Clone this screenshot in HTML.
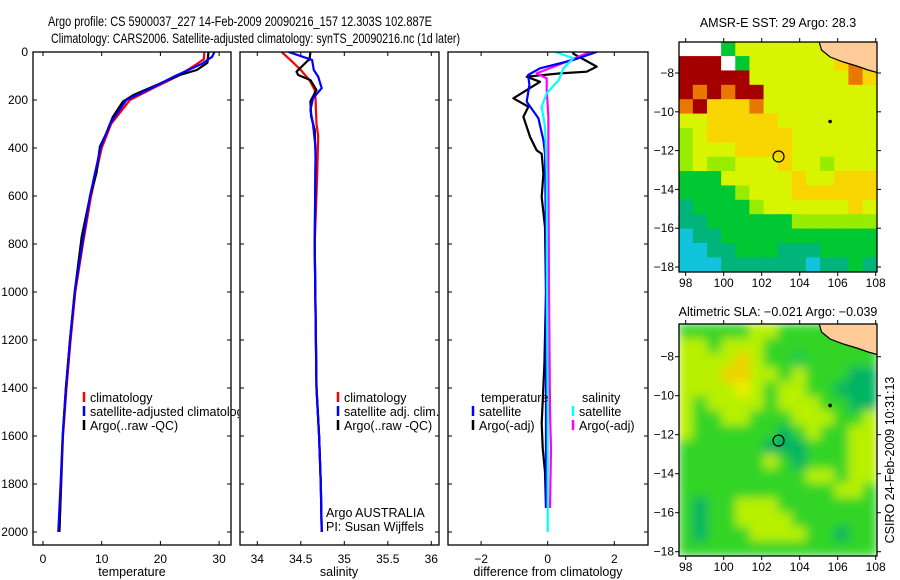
<!DOCTYPE html>
<html><head><meta charset="utf-8">
<style>
html,body{margin:0;padding:0;background:#fff;}
svg{display:block;font-family:"Liberation Sans",Arial,sans-serif;}
</style></head>
<body>
<svg id="fig" width="900" height="580" viewBox="0 0 900 580" xmlns="http://www.w3.org/2000/svg">
<defs>
<clipPath id="c1"><rect x="33" y="52" width="198" height="493"/></clipPath>
<clipPath id="c1t"><rect x="33" y="52" width="206" height="493"/></clipPath>
<clipPath id="c2"><rect x="240" y="52" width="199" height="493"/></clipPath>
<clipPath id="c3"><rect x="448" y="52" width="200" height="493"/></clipPath>
<clipPath id="cm1"><rect x="679" y="42" width="198" height="230"/></clipPath>
<clipPath id="cm2"><rect x="679" y="324" width="198" height="232"/></clipPath>
<filter id="blur" x="-5%" y="-5%" width="110%" height="110%"><feGaussianBlur stdDeviation="5"/></filter>
</defs>
<rect x="0" y="0" width="900" height="580" fill="#fff"/>
<text x="48" y="26" font-size="14" textLength="384" lengthAdjust="spacingAndGlyphs">Argo profile: CS 5900037_227 14-Feb-2009 20090216_157 12.303S 102.887E</text>
<text x="51" y="43" font-size="14" textLength="409" lengthAdjust="spacingAndGlyphs">Climatology: CARS2006. Satellite-adjusted climatology: synTS_20090216.nc (1d later)</text>
<g id="root"></g>
</svg>
<script>
// ---------- DATA ----------
const depthTicks = [0,200,400,600,800,1000,1200,1400,1600,1800,2000];
const tempTicks = [0,10,20,30];
const salTicks = [34,34.5,35,35.5,36];
const diffTicks = [-2,0,2];
const lonTicks = [98,100,102,104,106,108];
const latTicks = [-8,-10,-12,-14,-16,-18];

const tDepthClim = [0,30,50,100,150,200,300,400,600,800,1000,1200,1400,1600,1800,2000];
const tempClim =   [27.5,27.4,26.2,23,18.8,14.8,11.6,10,8.2,6.8,5.5,4.7,4.0,3.4,3.1,2.8];
const tDepthSat =  [0,20,50,100,150,200,300,400,600,800,1000,1200,1400,1600,1800,2000];
const tempSat =    [29.2,28.8,27,22.5,18.5,14.2,11.4,9.8,8.0,6.7,5.4,4.6,3.9,3.35,3.0,2.6];
const tDepthArgo = [0,45,75,96,137,179,207,270,338,394,505,603,770,1000,1200,1400,1600,1800,2000];
const tempArgo =   [28.2,28.0,26.2,23.3,19.4,15.4,13.6,11.9,10.8,9.7,9.1,8.0,6.6,5.4,4.6,3.9,3.35,3.07,2.8];

const sDepthClim = [0,33,75,117,158,200,300,350,500,800,1400,1600,1800,2000];
const salClim =    [34.28,34.38,34.5,34.6,34.66,34.67,34.68,34.7,34.69,34.66,34.68,34.71,34.73,34.74];
const sDepthSat =  [0,33,75,103,151,193,242,300,400,800,1400,1600,1800,2000];
const salSat =     [34.36,34.63,34.65,34.7,34.74,34.64,34.61,34.64,34.67,34.66,34.68,34.71,34.73,34.74];
const sDepthArgo = [0,33,36,82,96,117,158,206,269,324,442,800,1400,1600,1800,2000];
const salArgo =    [34.61,34.6,34.58,34.45,34.47,34.61,34.68,34.61,34.62,34.66,34.67,34.66,34.68,34.71,34.73,34.74];

const dDepthTSat = [0,33,68,96,137,207,276,367,422,783,1200,1600,1900];
const diffTSat =   [1.47,0.77,-0.23,-0.59,-0.55,-0.63,-0.28,-0.13,-0.08,-0.05,-0.05,-0.05,-0.05];
const dDepthTArgo = [0,7,61,82,89,103,124,193,228,270,354,410,424,507,604,729,1000,1300,1547,1650,1750,1900];
const diffTArgo =   [0.77,0.77,1.47,1.17,0.37,-0.63,-0.23,-1.03,-0.58,-0.73,-0.53,-0.33,-0.18,-0.13,-0.18,-0.08,-0.05,-0.1,-0.18,-0.15,-0.08,-0.05];
const dDepthSSat = [0,26,68,117,172,228,311,500,1000,1500,2000];
const diffSSat =   [0.23,0.77,0.47,0.33,-0.03,-0.18,-0.08,-0.03,-0.02,0,0];
const dDepthSArgo = [0,40,89,110,158,270,450,1000,1500,1650,1900];
const diffSArgo =   [1.27,0.57,-0.33,-0.03,-0.03,0.02,0.02,0.04,0.07,0.1,0.07];

// map grids (color codes)
const sstGrid = [
"WWWgLLLLLLLYYP",
"RRRWgLLLLLLYOP",
"RRRRRLLLLLLLOY",
"RORORRLLLLLLLL",
"ORYYYOLLLLLLLL",
"LLYYYYYLLLLLLL",
"GLYYYYYYLLLLLL",
"GLLLYYYYLLLLLL",
"GLGGLLLYLLGLLL",
"gggLLLLLYLLYYY",
"ggggGLLLYYYYYY",
"TggggGLLLLLLYL",
"TTggggggGGGGGG",
"CTTggggggggggg",
"CCTTgggTTTgggg",
"CCCTTTTTTCTTgT"];
const slaGrid = [
"GGGGGLLGGGGGGG",
"LLGLLLGGGGGGGG",
"LLLLOLGGgGGGGG",
"LLLOOLLGLGGGDD",
"LLLLYLGLLGGDDD",
"LGLLLLGLLLGGDD",
"LGGLLGGGLLLGGL",
"LGGGGGGDGLGGLL",
"GGGGGGDDDGGGLL",
"GGGGGGLGDGGGLL",
"GGGGGGGGGLLGLL",
"GGGGGGGGGGGLLG",
"GDGGLLLGGGGGGG",
"GDGGLLLLGGGGGG",
"GDGGGLLLLGGDGG",
"GGGGGGGGGGGGGG"];
const sstColors = {W:"#ffffff",R:"#a50000",O:"#e87800",Y:"#f8d400",L:"#d8f400",G:"#98ec00",g:"#00c832",T:"#00b47a",C:"#10c4dc",P:"#ffcc99"};
const slaColors = {G:"#30d428",L:"#b8f000",Y:"#f0f000",O:"#f0d000",g:"#20c850",D:"#00b464",P:"#ffcc99"};
const argoLon = 102.887, argoLat = -12.303;
const starLon = 105.6, starLat = -10.5;

// ---------- helpers ----------
const NS="http://www.w3.org/2000/svg";
const root=document.getElementById('root');
function mk(tag,attrs,parent){const e=document.createElementNS(NS,tag);for(const k in attrs)e.setAttribute(k,attrs[k]);(parent||root).appendChild(e);return e;}
const yD = d => 52 + d*0.24;
const xT = t => 43 + t*5.87;
const xS = s => 257.3 + (s-34)*87;
const xDf = v => 547.7 + v*33.3;

function frame(x0,y0,x1,y1,name){
  const r=mk('rect',{x:x0,y:y0,width:x1-x0,height:y1-y0,fill:'none',stroke:'#000','stroke-width':1.3});
  
  
}
function line(xs,ds,fx,col,clip,name,w){
  const pts=xs.map((v,i)=>fx(v).toFixed(1)+','+yD(ds[i]).toFixed(1)).join(' ');
  const p=mk('polyline',{points:pts,fill:'none',stroke:col,'stroke-width':w||2.2,'clip-path':'url(#'+clip+')','stroke-linejoin':'round'});
  
  
}
function txt(x,y,s,anchor,size,name,parent){
  const t=mk('text',{x:x,y:y,'font-size':size||12,'text-anchor':anchor||'start'},parent);
  t.textContent=s;
  
  
  return t;
}
function xTicks(vals,fx,y0,y1,labY,name,fmt){
  vals.forEach(v=>{const x=fx(v);
    mk('line',{x1:x,y1:y0,x2:x,y2:y0+4,stroke:'#000'});
    mk('line',{x1:x,y1:y1,x2:x,y2:y1-4,stroke:'#000'});
    if(labY) txt(x,labY,fmt?fmt(v):String(v),'middle',12,name);
  });
}
function yTicksP(x0,x1){
  depthTicks.forEach(d=>{const y=yD(d);
    mk('line',{x1:x0,y1:y,x2:x0+4,y2:y,stroke:'#000'});
    mk('line',{x1:x1,y1:y,x2:x1-4,y2:y,stroke:'#000'});
  });
}
function legend(x,y,col,label,name,parent){
  const l=mk('line',{x1:x,y1:y-10,x2:x,y2:y,stroke:col,'stroke-width':2.5},parent);
  
  
  txt(x+6,y,label,'start',12.5,name,parent);
}

// ---------- panel 1 temperature ----------
yTicksP(33,231);
depthTicks.forEach(d=>txt(28,yD(d)+4,String(d),'end',12,'depth-tick-label'));
xTicks(tempTicks,xT,52,545,563,'temperature-tick-label');
line(tempClim,tDepthClim,xT,'#ff0000','c1','temp-climatology-line');
line(tempArgo,tDepthArgo,xT,'#000000','c1','temp-argo-line');
line(tempSat,tDepthSat,xT,'#0000ff','c1','temp-satellite-line');
const lg1=mk('g',{'clip-path':'url(#c1t)'});


legend(84,402,'#ff0000','climatology','legend-climatology',lg1);
legend(84,416,'#0000ff','satellite-adjusted climatology','legend-satellite-adjusted',lg1);
legend(84,430,'#000000','Argo(..raw -QC)','legend-argo',lg1);
txt(132,576,'temperature','middle',12.5,'temperature-axis-title');

// ---------- panel 2 salinity ----------
yTicksP(240,439);
xTicks(salTicks,xS,52,545,563,'salinity-tick-label');
line(salClim,sDepthClim,xS,'#ff0000','c2','sal-climatology-line');
line(salArgo,sDepthArgo,xS,'#000000','c2','sal-argo-line');
line(salSat,sDepthSat,xS,'#0000ff','c2','sal-satellite-line');
legend(338,402,'#ff0000','climatology','legend2-climatology');
legend(338,416,'#0000ff','satellite adj. clim.','legend2-satellite');
legend(338,430,'#000000','Argo(..raw -QC)','legend2-argo');
txt(326,517,'Argo AUSTRALIA','start',12.5,'argo-australia-label');
txt(326,531,'PI: Susan Wijffels','start',12.5,'pi-label');
txt(339,576,'salinity','middle',12.5,'salinity-axis-title');

// ---------- panel 3 difference ----------
yTicksP(448,648);
xTicks(diffTicks,xDf,52,545,563,'difference-tick-label',v=>v<0?'\u2212'+Math.abs(v):String(v));
line(diffTArgo,dDepthTArgo,xDf,'#000000','c3','diff-temp-argo-line');
line(diffSArgo,dDepthSArgo,xDf,'#ff00ff','c3','diff-sal-argo-line');
line(diffTSat,dDepthTSat,xDf,'#0000ff','c3','diff-temp-satellite-line');
line(diffSSat,dDepthSSat,xDf,'#00ffff','c3','diff-sal-satellite-line');
txt(481,402,'temperature','start',12.5,'legend3-temperature-heading');
txt(582,402,'salinity','start',12.5,'legend3-salinity-heading');
legend(473,416,'#0000ff','satellite','legend3-temp-satellite');
legend(473,430,'#000000','Argo(-adj)','legend3-temp-argo');
legend(573,416,'#00ffff','satellite','legend3-sal-satellite');
legend(573,430,'#ff00ff','Argo(-adj)','legend3-sal-argo');
txt(548,576,'difference from climatology','middle',12.5,'difference-axis-title');

frame(33,52,231,545,'temperature-panel-frame');
frame(240,52,439,545,'salinity-panel-frame');
frame(448,52,648,545,'difference-panel-frame');

// ---------- maps ----------
function drawMap(grid,colors,x0,y0,x1,y1,clip,blur,lonX,latY,name){
  const g=mk('g',{'clip-path':'url(#'+clip+')'});
  
  
  const inner=mk('g',blur?{filter:'url(#blur)'}:{},g);
  const rows=grid.length, cols=grid[0].length;
  const cw=(x1-x0)/cols, ch=(y1-y0)/rows;
  grid.forEach((row,r)=>{[...row].forEach((c,k)=>{
    const col = c==='P' ? colors.G||colors.L : colors[c];
    const cell=mk('rect',{x:(x0+k*cw-0.3).toFixed(2),y:(y0+r*ch-0.3).toFixed(2),width:(cw+0.6).toFixed(2),height:(ch+0.6).toFixed(2),fill:col},inner);
    
    
  });});
  const land=mk('polygon',{points:`${lonX(105.0)},${y0-2} ${lonX(105.15)},${y0+8} ${lonX(105.6)},${y0+15} ${lonX(106.3)},${y0+20} ${lonX(107.0)},${y0+24} ${lonX(107.6)},${y0+28} ${x1+2},${y0+31} ${x1+2},${y0-2}`,fill:'#ffcc99',stroke:'#000','stroke-width':1.2},g);
  
  
  const c=mk('circle',{cx:lonX(argoLon),cy:latY(argoLat),r:5.5,fill:'none',stroke:'#000','stroke-width':1.2});
  
  
  const s=mk('circle',{cx:lonX(starLon),cy:latY(starLat),r:1.8,fill:'#000'});
  
  
  frame(x0,y0,x1,y1,name+'-frame');
  lonTicks.forEach(v=>{const x=lonX(v);
    mk('line',{x1:x,y1:y0,x2:x,y2:y0-4,stroke:'#000'});
    mk('line',{x1:x,y1:y1,x2:x,y2:y1+4,stroke:'#000'});
  });
  latTicks.forEach(v=>{const y=latY(v);
    mk('line',{x1:x0,y1:y,x2:x0-4,y2:y,stroke:'#000'});
    mk('line',{x1:x1,y1:y,x2:x1+4,y2:y,stroke:'#000'});
    txt(x0-5,y+4,'\u2212'+Math.abs(v),'end',12,name+'-lat-label');
  });
}
const lon1 = v => 685.7 + (v-98)*19;
const lat1 = v => 73 + (-8-v)*19.4;
drawMap(sstGrid,sstColors,679,42,877,272,'cm1',false,lon1,lat1,'sst-map');
lonTicks.forEach(v=>txt(lon1(v),287,String(v),'middle',12,'sst-lon-label'));
txt(778,27,'AMSR-E SST: 29 Argo: 28.3','middle',12.5,'sst-map-title');

const lat2 = v => 356.7 + (-8-v)*19.5;
drawMap(slaGrid,slaColors,679,324,877,556,'cm2',true,lon1,lat2,'sla-map');
lonTicks.forEach(v=>txt(lon1(v),571,String(v),'middle',12,'sla-lon-label'));
txt(778,316,'Altimetric SLA: \u22120.021 Argo: \u22120.039','middle',12.5,'sla-map-title');

const rt=txt(0,0,'CSIRO 24-Feb-2009 10:31:13','middle',12.5,'timestamp-label');
rt.setAttribute('transform','translate(894,460) rotate(-90)');
</script>
</body></html>
